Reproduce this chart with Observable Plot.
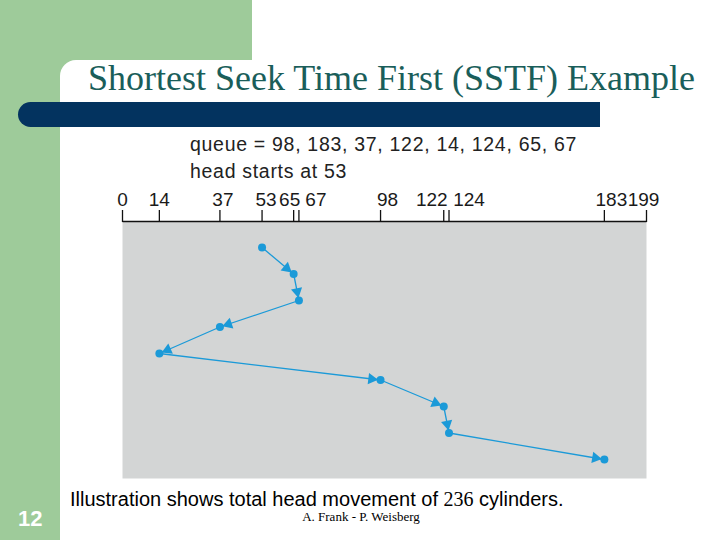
<!DOCTYPE html>
<html>
<head>
<meta charset="utf-8">
<script src="https://cdn.jsdelivr.net/npm/d3@7"></script>
<script src="https://cdn.jsdelivr.net/npm/@observablehq/plot@0.6"></script>
<style>
  html, body { margin: 0; padding: 0; background: #fff; }
  #page { position: relative; width: 720px; height: 540px; overflow: hidden; background: #fff; }
  .abs { position: absolute; white-space: nowrap; }
  .sans { font-family: "Liberation Sans", Arial, Helvetica, sans-serif; }
  .serif { font-family: "Liberation Serif", "Times New Roman", Times, serif; }
</style>
</head>
<body>
<div id="page">
  <div class="abs" style="left:0;top:0;width:252px;height:80px;background:#9ecb9a;"></div>
  <div class="abs" style="left:0;top:0;width:80px;height:540px;background:#9ecb9a;"></div>
  <div class="abs" style="left:60px;top:60px;width:660px;height:480px;background:#fff;border-top-left-radius:16px;"></div>
  <div id="title" class="abs serif" style="left:88px;top:60px;font-size:36px;line-height:36px;color:#1a5e5a;"></div>
  <div class="abs" style="left:18px;top:102px;width:582px;height:25px;background:#03335f;border-radius:13px 0 0 13px;"></div>
  <div id="q1" class="abs sans" style="left:190px;top:135px;font-size:19.5px;line-height:19.5px;letter-spacing:0.7px;color:#222;"></div>
  <div id="q2" class="abs sans" style="left:190px;top:162px;font-size:19.5px;line-height:19.5px;letter-spacing:0.7px;color:#222;"></div>
  <div id="chart" class="abs" style="left:0;top:180px;"></div>
  <div id="caption" class="abs sans" style="left:70px;top:489px;font-size:20px;line-height:20px;color:#000;"></div>
  <div id="footer" class="abs serif" style="left:1px;top:510px;width:720px;text-align:center;font-size:13px;line-height:13px;color:#000;"></div>
  <div id="slideno" class="abs sans" style="left:18px;top:508px;font-size:22px;line-height:22px;font-weight:bold;color:#fff;"></div>
</div>
<script>
// ---- data ----
const titleText = "Shortest Seek Time First (SSTF) Example";
const queue = [98, 183, 37, 122, 14, 124, 65, 67];
const headStart = 53;
const serviceOrder = [53, 65, 67, 37, 14, 98, 122, 124, 183];
const tickValues = [0, 14, 37, 53, 65, 67, 98, 122, 124, 183, 199];
const cylinderDomain = [0, 199];
const totalMovement = 236;
const slideNumber = 12;
const authors = "A. Frank - P. Weisberg";

// ---- texts ----
document.getElementById("title").textContent = titleText;
document.getElementById("q1").textContent = "queue = " + queue.join(", ");
document.getElementById("q2").textContent = "head starts at " + headStart;
document.getElementById("caption").innerHTML =
  "Illustration shows total head movement of <span style=\"font-family:'Liberation Serif','Times New Roman',serif\">" +
  totalMovement + "</span> cylinders.";
document.getElementById("footer").textContent = authors;
document.getElementById("slideno").textContent = slideNumber;

// ---- layout ----
const W = 720, H = 300;
const mL = 122, mR = 74, mT = 41, mB = 2;
const yRange = [67, 279];
const blue = "#1b9ad8";
const labelNudge = {37: 3, 53: 4, 65: -4, 67: 17, 98: 7, 122: -12, 124: 20, 183: 7, 199: -3};

const path = serviceOrder.map((c, i) => ({cyl: c, step: i}));

// pixel-space geometry for arrowheads (same mapping as Plot's scales)
const xs = d3.scaleLinear(cylinderDomain, [mL, W - mR]);
const ys = d3.scaleLinear([0, serviceOrder.length - 1], yRange);
const heads = [];
for (let i = 1; i < path.length; i++) {
  const x1 = xs(path[i - 1].cyl), y1 = ys(path[i - 1].step);
  const x2 = xs(path[i].cyl), y2 = ys(path[i].step);
  const dx = x2 - x1, dy = y2 - y1, L = Math.hypot(dx, dy);
  const back = 9;
  heads.push({
    cyl: xs.invert(x2 - dx / L * back),
    step: ys.invert(y2 - dy / L * back),
    angle: Math.atan2(dx, -dy) * 180 / Math.PI
  });
}

const labelMarks = tickValues.map(v => Plot.text([v], {
  x: d => d,
  frameAnchor: "top",
  lineAnchor: "bottom",
  dy: -16,
  dx: labelNudge[v] || 0,
  text: d => String(d),
  fontSize: 19,
  fontFamily: "Liberation Sans, Arial, sans-serif",
  fill: "#1a1a1a"
}));

const chart = Plot.plot({
  width: W,
  height: H,
  marginLeft: mL,
  marginRight: mR,
  marginTop: mT,
  marginBottom: mB,
  style: {background: "transparent", overflow: "visible"},
  x: {domain: cylinderDomain},
  y: {domain: [0, serviceOrder.length - 1], range: yRange, axis: null},
  marks: [
    Plot.frame({fill: "#d3d5d5", stroke: "none"}),
    Plot.frame({fill: "none", stroke: "#111", strokeWidth: 1.3, strokeDasharray: `${W - mL - mR} 5000`}),
    Plot.axisX({anchor: "top", ticks: tickValues, tickSize: 12, tickFormat: () => "", label: null, stroke: "#111", strokeWidth: 1.3}),
    ...labelMarks,
    Plot.line(path, {x: "cyl", y: "step", stroke: blue, strokeWidth: 1.3}),
    Plot.dot(heads, {x: "cyl", y: "step", rotate: "angle", symbol: "triangle", r: 4.2, fill: blue, stroke: "none"}),
    Plot.dot(path, {x: "cyl", y: "step", r: 4, fill: blue, stroke: "none"})
  ]
});
document.getElementById("chart").appendChild(chart);
</script>
</body>
</html>
